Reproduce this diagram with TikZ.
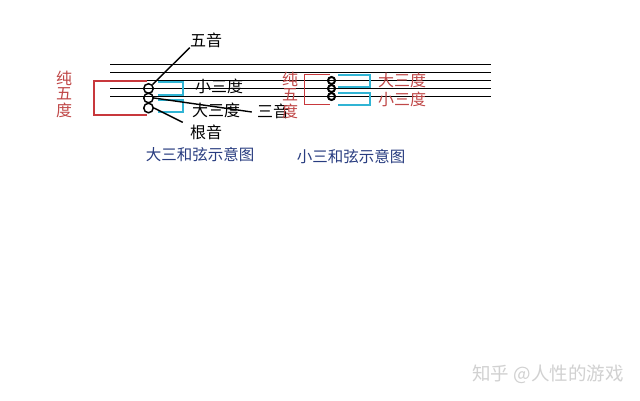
\documentclass[tikz,border=0pt]{standalone}
\usepackage{fontspec}
\newfontfamily\cjk{Noto Sans CJK SC}
\definecolor{staffred}{HTML}{C8383C}
\definecolor{labred}{HTML}{C04848}
\definecolor{brcyan}{HTML}{30B4D4}
\definecolor{titblue}{HTML}{283C80}
\tikzset{
  lab/.style={font=\cjk\fontsize{16}{17}\selectfont, inner sep=0pt, anchor=center},
  redlab/.style={lab, text=labred},
  titlab/.style={lab, text=titblue, font=\cjk\fontsize{15.5}{16}\selectfont},
  staff/.style={line width=1pt, black},
  noteA/.style={circle, draw=black, line width=1.5pt, minimum size=9.5pt, inner sep=0pt},
  noteB/.style={circle, draw=black, line width=2pt, minimum size=7pt, inner sep=0pt},
  conn/.style={line width=1.4pt, black},
  brk/.style={draw=brcyan, line width=2pt},
  fifthA/.style={draw=staffred, line width=2pt},
  fifthB/.style={draw=staffred, line width=1pt}
}
\begin{document}
\begin{tikzpicture}[x=1pt,y=-1pt]
\useasboundingbox[fill=white] (0,0) rectangle (640,400);
% staff
\foreach \yy in {64,72,80.5,88.5,96.5} \draw[staff] (110,\yy) -- (491,\yy);
% left chord
\draw[fifthA] (147,81) -- (94,81) -- (94,115) -- (147,115);
\draw[brk] (158,82) -- (183,82) -- (183,95) -- (158,95);
\draw[brk] (158,100) -- (183,100) -- (183,112) -- (158,112);
\node[noteA] (n1) at (148.5,88.5) {};
\node[noteA] (n2) at (148.5,98) {};
\node[noteA] (n3) at (148.5,108) {};
\node[lab] (wuyin) at (206,40) {五音};
\node[lab] (xiaoA) at (219,86) {小三度};
\node[lab] (daA) at (216,110) {大三度};
\node[lab] (sanyin) at (273,111) {三音};
\node[lab] (genyin) at (206,132) {根音};
\node[redlab] (cA) at (64,78) {纯};
\node[redlab] (wA) at (64,94) {五};
\node[redlab] (dA) at (64,110) {度};
\draw[conn] (n1.north east) -- (wuyin.south west);
\draw[conn] (n2.east) -- ([xshift=-5pt,yshift=-1pt]sanyin.west);
\draw[conn] (n3.east) -- ([xshift=-7pt,yshift=2pt]genyin.north west);
\node[titlab] (titA) at (200,155) {大三和弦示意图};
% right chord
\draw[fifthB] (330,74) -- (304,74) -- (304,104) -- (330,104);
\draw[brk] (338,75) -- (370,75) -- (370,87) -- (338,87);
\draw[brk] (338,92.5) -- (370,92.5) -- (370,104.5) -- (338,104.5);
\node[noteB] (m1) at (331.5,80.5) {};
\node[noteB] (m2) at (331.5,88.5) {};
\node[noteB] (m3) at (331.5,96.5) {};
\node[redlab] (cB) at (290,79) {纯};
\node[redlab] (wB) at (290,95) {五};
\node[redlab] (dB) at (290,111) {度};
\node[redlab] (daB) at (402,80) {大三度};
\node[redlab] (xiaoB) at (402,99) {小三度};
\node[titlab] (titB) at (351,157) {小三和弦示意图};
% watermark
\node[lab, text=black!18, font=\cjk\fontsize{18.5}{19}\selectfont] (wm) at (548,374) {知乎 @人性的游戏};
\end{tikzpicture}
\end{document}
